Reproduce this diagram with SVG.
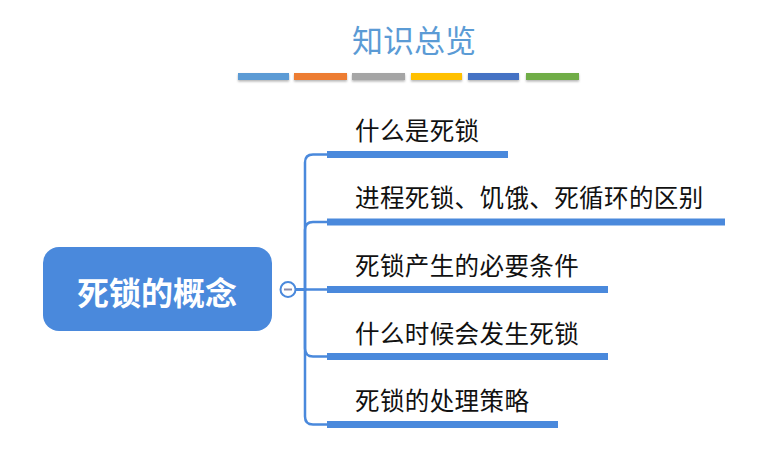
<svg xmlns="http://www.w3.org/2000/svg" width="782" height="452" viewBox="0 0 782 452">
  <defs>
    <filter id="sh" x="-10%" y="-50%" width="120%" height="250%">
      <feDropShadow dx="0" dy="1.5" stdDeviation="1.2" flood-color="#000" flood-opacity="0.3"/>
    </filter>
  </defs>
  <style>
    .title{font-family:"Noto Sans CJK SC","Noto Sans",sans-serif;font-size:31px;fill:#5b9bd5}
    .leaf{font-family:"Noto Sans CJK SC","Noto Sans",sans-serif;font-size:24.5px;fill:#111;letter-spacing:0.4px}
    .root{font-family:"Noto Sans CJK SC","Noto Sans",sans-serif;font-size:32px;font-weight:bold;fill:#fff}
    .bar{fill:#4a89dc}
    .conn{fill:none;stroke:#4a89dc;stroke-width:2.5}
  </style>
  <rect width="782" height="452" fill="#fff"/>
  <g id="title">
    <text class="title" x="414" y="38" text-anchor="middle" dominant-baseline="central">知识总览</text>
    <g filter="url(#sh)">
      <rect x="238" y="73" width="51" height="7" fill="#5b9bd5"/>
      <rect x="294" y="73" width="53" height="7" fill="#ed7d31"/>
      <rect x="352" y="73" width="53" height="7" fill="#a5a5a5"/>
      <rect x="411" y="73" width="51" height="7" fill="#ffc000"/>
      <rect x="468" y="73" width="51" height="7" fill="#4472c4"/>
      <rect x="526" y="73" width="53" height="7" fill="#70ad47"/>
    </g>
  </g>
  <g id="connectors">
    <path class="conn" d="M295 289.5 H305 V162.5 Q305 154.5 313 154.5 H328"/>
    <path class="conn" d="M295 289.5 H305 V230 Q305 222 313 222 H328"/>
    <path class="conn" d="M295 289.5 H328"/>
    <path class="conn" d="M295 289.5 H305 V348.5 Q305 356.5 313 356.5 H328"/>
    <path class="conn" d="M295 289.5 H305 V416.5 Q305 424.5 313 424.5 H328"/>
  </g>
  <g id="root">
    <rect x="43" y="247" width="229" height="84" rx="16" fill="#4a89dc"/>
    <text class="root" x="157" y="291" text-anchor="middle" dominant-baseline="central">死锁的概念</text>
    <circle cx="288" cy="289.5" r="7.5" fill="#fff" stroke="#4a89dc" stroke-width="2"/>
    <line x1="284" y1="289.5" x2="292" y2="289.5" stroke="#8a8aa8" stroke-width="2"/>
  </g>
  <g id="n1">
    <rect class="bar" x="327" y="151" width="181" height="7"/>
    <text class="leaf" x="355" y="129.5" dominant-baseline="central">什么是死锁</text>
  </g>
  <g id="n2">
    <rect class="bar" x="327" y="218.5" width="398" height="7"/>
    <text class="leaf" x="355" y="196.5" dominant-baseline="central">进程死锁、饥饿、死循环的区别</text>
  </g>
  <g id="n3">
    <rect class="bar" x="327" y="286" width="281" height="7"/>
    <text class="leaf" x="355" y="264" dominant-baseline="central">死锁产生的必要条件</text>
  </g>
  <g id="n4">
    <rect class="bar" x="327" y="353" width="281" height="7"/>
    <text class="leaf" x="355" y="332.5" dominant-baseline="central">什么时候会发生死锁</text>
  </g>
  <g id="n5">
    <rect class="bar" x="327" y="421" width="231" height="7"/>
    <text class="leaf" x="355" y="399" dominant-baseline="central">死锁的处理策略</text>
  </g>
</svg>
